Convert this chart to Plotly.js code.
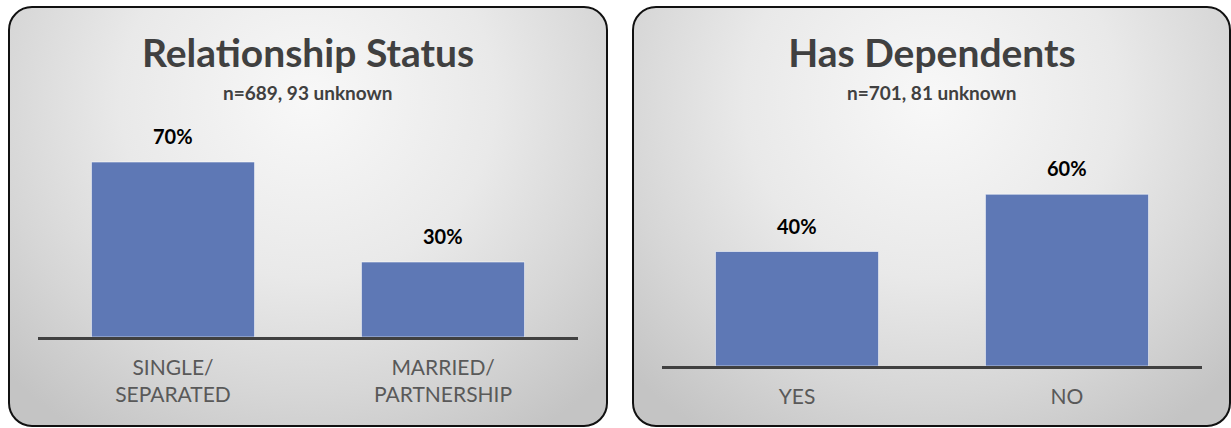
<!DOCTYPE html>
<html>
<head>
<meta charset="utf-8">
<script src="https://cdn.plot.ly/plotly-3.0.1.min.js"></script>
<style>
  html, body { margin: 0; padding: 0; background: #ffffff; width: 1231px; height: 428px; overflow: hidden; }
  .frame {
    position: absolute; box-sizing: border-box;
    border: 2px solid #111111; border-radius: 24px;
    background: radial-gradient(ellipse 70% 95% at 50% 22%, #f8f8f8 0%, #e9e9e9 45%, #d6d6d6 75%, #c4c4c4 100%);
  }
  .plot { position: absolute; }
</style>
</head>
<body>
<div class="frame" style="left:8px; top:6px; width:600px; height:421px;"></div>
<div class="frame" style="left:632px; top:6px; width:599px; height:421px;"></div>
<div id="p1" class="plot" style="left:8px; top:6px; width:600px; height:421px;"></div>
<div id="p2" class="plot" style="left:632px; top:6px; width:599px; height:421px;"></div>
<script>
// ---- data ----
const relTitle = "Relationship Status";
const relSubtitle = "n=689, 93 unknown";
const relCategories = ["SINGLE/<br>SEPARATED", "MARRIED/<br>PARTNERSHIP"];
const relValues = [0.70, 0.30];
const relLabels = ["70%", "30%"];

const depTitle = "Has Dependents";
const depSubtitle = "n=701, 81 unknown";
const depCategories = ["YES", "NO"];
const depValues = [0.40, 0.60];
const depLabels = ["40%", "60%"];

const FONT = "Lato, 'Open Sans', sans-serif";

function draw(id, title, subtitle, cats, vals, labels, dims) {
  const trace = {
    type: "bar",
    x: cats,
    y: vals,
    marker: { color: "#5e78b5", line: { color: "rgba(255,255,255,0.55)", width: 1 } },
    hoverinfo: "skip"
  };
  const annotations = cats.map((c, i) => ({
    x: c, y: vals[i], xref: "x", yref: "y",
    text: labels[i], showarrow: false,
    yanchor: "middle", yshift: 26,
    font: { family: FONT, size: 20, color: "#000000", weight: 700 }
  }));
  annotations.push({
    x: 0.5, y: 1, xref: "paper", yref: "paper",
    text: subtitle, showarrow: false,
    xanchor: "center", yanchor: "middle", yshift: dims.t - 86,
    font: { family: FONT, size: 19, color: "#404040", weight: 700 }
  });
  const layout = {
    width: dims.w, height: 421,
    margin: { l: 30, r: dims.w - 570, t: dims.t, b: dims.b, pad: 0 },
    paper_bgcolor: "rgba(0,0,0,0)",
    plot_bgcolor: "rgba(0,0,0,0)",
    showlegend: false,
    bargap: 0.396,
    title: {
      text: title,
      x: 0.5, xanchor: "center", xref: "paper",
      y: 1 - 47 / 421, yanchor: "middle", yref: "container",
      font: { family: FONT, size: 39, color: "#404040", weight: 700 }
    },
    xaxis: {
      type: "category",
      showline: true, linecolor: "#404040", linewidth: 3.3,
      showgrid: false, zeroline: false, ticks: "",
      tickfont: { family: FONT, size: 21, color: "#595959" },
      ticklabelstandoff: 9,
      fixedrange: true
    },
    yaxis: {
      range: [0, 0.8],
      visible: false, showgrid: false, zeroline: false,
      fixedrange: true
    },
    annotations: annotations
  };
  Plotly.newPlot(id, [trace], layout, { displayModeBar: false, staticPlot: true });
}

draw("p1", relTitle, relSubtitle, relCategories, relValues, relLabels, { w: 600, t: 131, b: 90 });
draw("p2", depTitle, depSubtitle, depCategories, depValues, depLabels, { w: 599, t: 131, b: 61 });
</script>
</body>
</html>
